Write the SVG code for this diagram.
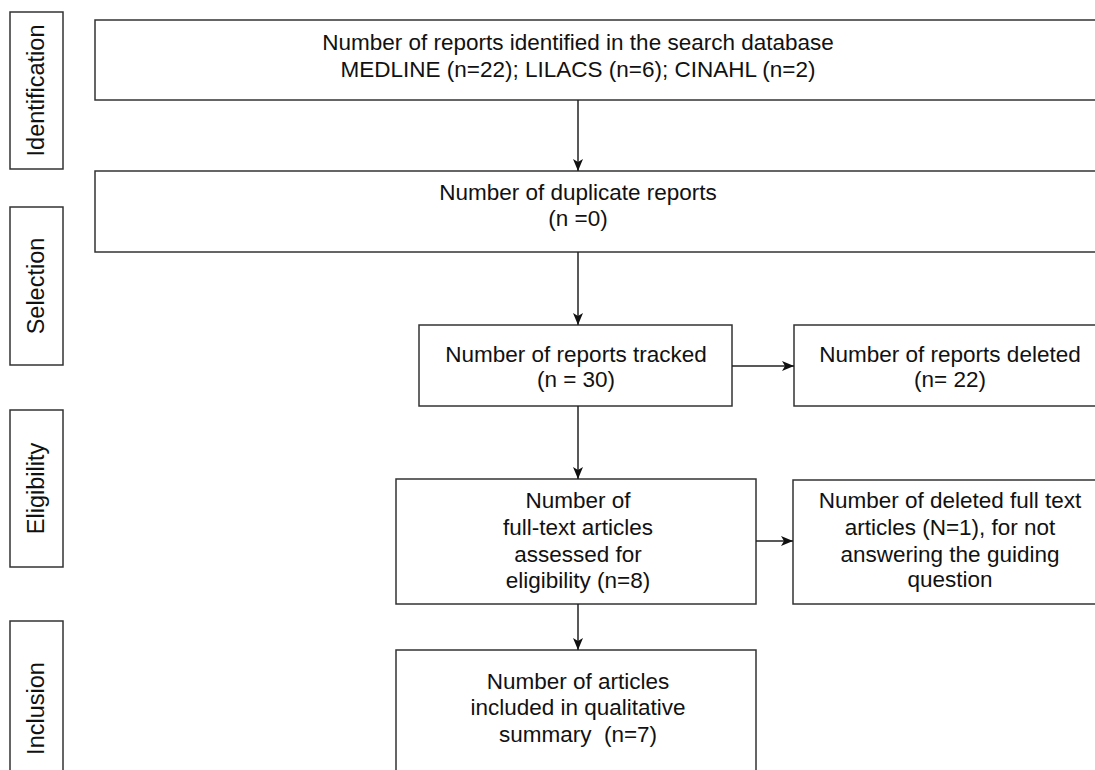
<svg xmlns="http://www.w3.org/2000/svg" width="1095" height="770" viewBox="0 0 1095 770">
<style>
.box{fill:#fff;stroke:#333;stroke-width:1.5}
.t{font-family:"Liberation Sans",Arial,sans-serif;font-size:22.5px;fill:#111;text-anchor:middle;white-space:pre}
.s{font-size:23.5px}
.c{stroke:#222;stroke-width:1.5;fill:none;marker-end:url(#ah)}
</style>
<defs>
<marker id="ah" markerWidth="12" markerHeight="10" refX="12" refY="5" orient="auto" markerUnits="userSpaceOnUse">
<path d="M0,0 L12,5 L0,10 L3,5 Z" fill="#111"/>
</marker>
</defs>
<rect width="1095" height="770" fill="#fff"/>
<g id="stage-identification">
<rect class="box" x="10" y="12" width="53" height="157"/>
<text class="t s" transform="translate(44,90.5) rotate(-90)">Identification</text>
</g>
<g id="stage-selection">
<rect class="box" x="10" y="207" width="53" height="158"/>
<text class="t s" transform="translate(44,286) rotate(-90)">Selection</text>
</g>
<g id="stage-eligibility">
<rect class="box" x="10" y="410" width="53" height="157"/>
<text class="t s" transform="translate(44,488.5) rotate(-90)">Eligibility</text>
</g>
<g id="stage-inclusion">
<rect class="box" x="10" y="621" width="53" height="170"/>
<text class="t s" transform="translate(44,708.5) rotate(-90)">Inclusion</text>
</g>
<g id="n-identified">
<rect class="box" x="95" y="20" width="1020" height="80"/>
<text class="t" x="578" y="50">Number of reports identified in the search database</text>
<text class="t" x="578" y="77">MEDLINE (n=22); LILACS (n=6); CINAHL (n=2)</text>
</g>
<g id="n-duplicates">
<rect class="box" x="95" y="171" width="1020" height="81"/>
<text class="t" x="578" y="200">Number of duplicate reports</text>
<text class="t" x="578" y="226">(n =0)</text>
</g>
<g id="n-tracked">
<rect class="box" x="419" y="325" width="313" height="81"/>
<text class="t" x="576" y="362">Number of reports tracked</text>
<text class="t" x="576" y="387">(n = 30)</text>
</g>
<g id="n-deleted">
<rect class="box" x="794" y="325" width="320" height="81"/>
<text class="t" x="950" y="362">Number of reports deleted</text>
<text class="t" x="950" y="387">(n= 22)</text>
</g>
<g id="n-fulltext">
<rect class="box" x="396" y="479" width="360" height="125"/>
<text class="t" x="578" y="508">Number of</text>
<text class="t" x="578" y="535">full-text articles</text>
<text class="t" x="578" y="562">assessed for</text>
<text class="t" x="578" y="588">eligibility (n=8)</text>
</g>
<g id="n-fulltext-deleted">
<rect class="box" x="793" y="480" width="320" height="124"/>
<text class="t" x="950" y="508">Number of deleted full text</text>
<text class="t" x="950" y="535">articles (N=1), for not</text>
<text class="t" x="950" y="562">answering the guiding</text>
<text class="t" x="950" y="587">question</text>
</g>
<g id="n-included">
<rect class="box" x="396" y="650" width="360" height="140"/>
<text class="t" x="578" y="689">Number of articles</text>
<text class="t" x="578" y="715">included in qualitative</text>
<text class="t" x="578" y="742">summary  (n=7)</text>
</g>
<g id="connectors">
<line class="c" x1="578" y1="100" x2="578" y2="171"/>
<line class="c" x1="578" y1="252" x2="578" y2="325"/>
<line class="c" x1="578" y1="406" x2="578" y2="479"/>
<line class="c" x1="578" y1="604" x2="578" y2="650"/>
<line class="c" x1="732" y1="366" x2="794" y2="366"/>
<line class="c" x1="756" y1="541" x2="793" y2="541"/>
</g>
</svg>
